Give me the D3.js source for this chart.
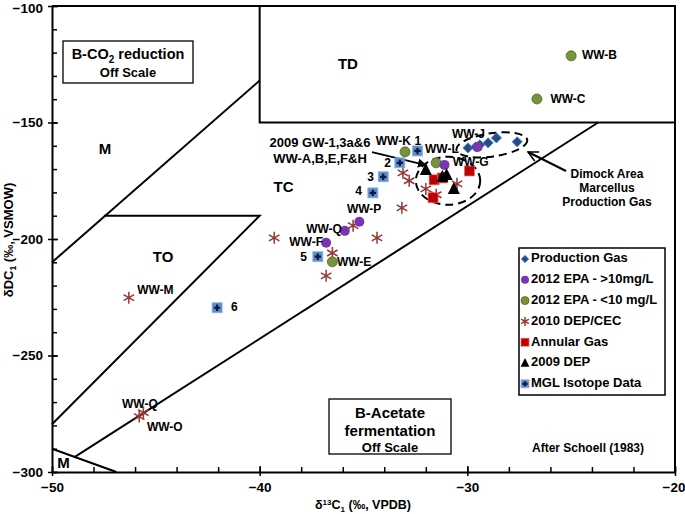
<!DOCTYPE html>
<html><head><meta charset="utf-8">
<script src="https://cdn.jsdelivr.net/npm/d3@7"></script>
<style>
body{margin:0;background:#fff;}
svg text{font-family:"Liberation Sans",Arial,sans-serif;font-weight:bold;fill:#000;}
</style></head><body>
<svg id="chart" width="685" height="514"></svg>
<script>
// ---------- DATA ----------
const xTicks = [-50, -40, -30, -20];
const yTicks = [-300, -250, -200, -150, -100];
const xMinor = d3.range(-50, -19.9, 2);
const yMinor = d3.range(-300, -99.9, 10);

// Series
const prodX = [-29.97, -29.6, -29.4, -29.0, -28.6, -27.6];
const prodY = [-160.9, -160.5, -159.6, -158.7, -156.6, -158.3];

const epaHiX = [-29.5, -31.1, -35.2, -35.9, -36.8];
const epaHiY = [-160.5, -168.2, -192.6, -196.5, -201.6];

const epaLoX = [-25.0, -26.65, -33.0, -31.5, -36.5];
const epaLoY = [-121.4, -139.9, -162.6, -167.3, -209.8];

const dep2010X = [-46.3, -45.6, -45.8, -39.3, -35.5, -36.5, -36.8, -34.35, -33.1, -32.8, -32.0, -31.5, -30.5, -33.15];
const dep2010Y = [-225.2, -274.5, -276.2, -199.5, -194.3, -206.0, -215.8, -199.5, -171.6, -175.0, -178.5, -181.0, -176.3, -186.6];

const annularX = [-29.9, -31.6, -31.2, -31.65];
const annularY = [-170.8, -174.6, -173.8, -182.3];

const dep2009X = [-32.0, -31.2, -31.0, -30.65];
const dep2009Y = [-170.3, -173.3, -172.5, -178.5];

const mglX = [-32.4, -33.25, -34.05, -34.55, -37.2, -42.05];
const mglY = [-162.2, -167.3, -173.3, -180.2, -207.6, -229.5];

const legendLabels = ["Production Gas", "2012 EPA - >10mg/L", "2012 EPA - <10 mg/L", "2010 DEP/CEC", "Annular Gas", "2009 DEP", "MGL Isotope Data"];

// Schoell (1983) genetic field boundaries (data coords)
const boundaryA = [[-50, -210], [-40, -132]];
const boundaryTD = [[-40, -100], [-40, -150], [-20, -150]];
const boundaryTO = [[-47.5, -190], [-40, -190], [-50, -279.5]];
const boundaryC = [[-48.9, -293.5], [-23.7, -150]];
const boundaryD = [[-50, -290], [-46.9, -300]];

// Point labels [text, x, y, anchor]
const pointLabels = [
  ["WW-B", -24.48, -121.4, "start"],
  ["WW-C", -26.0, -140.3, "start"],
  ["WW-J", -30.74, -155.3, "start"],
  ["WW-K", -32.72, -158.3, "end"],
  ["1", -32.55, -158.3, "start"],
  ["WW-L", -32.04, -161.7, "start"],
  ["WW-G", -30.7, -167.3, "start"],
  ["2", -33.68, -167.8, "end"],
  ["3", -34.5, -173.8, "end"],
  ["4", -35.07, -179.8, "end"],
  ["5", -37.72, -208.1, "end"],
  ["6", -41.38, -229.5, "start"],
  ["WW-P", -35.8, -187.5, "start"],
  ["WW-Q", -36.04, -196.1, "end"],
  ["WW-F", -36.95, -201.6, "end"],
  ["WW-E", -36.28, -210.2, "start"],
  ["WW-M", -45.9, -222.2, "start"],
  ["WW-Q", -46.63, -271.1, "start"],
  ["WW-O", -45.43, -281.0, "start"]
];
// Region labels [text, x, y]
const regionLabels = [
  ["TD", -35.75, -125.3],
  ["TC", -38.85, -178.0],
  ["TO", -44.65, -208.1],
  ["M", -47.45, -161.7],
  ["M", -49.45, -296.4]
];

// ---------- CHART ----------
const svg = d3.select("#chart");
const L = 52, R = 675, T = 6, B = 472;
const x = d3.scaleLinear().domain([-50, -20]).range([L, R]);
const y = d3.scaleLinear().domain([-300, -100]).range([B, T]);
const line = d3.line().x(d => x(d[0])).y(d => y(d[1]));

// frame (top & right)
svg.append("path").attr("d", `M${L},${T}H${R}V${B}`).attr("fill", "none").attr("stroke", "#000").attr("stroke-width", 2);

// boundaries
[boundaryA, boundaryTD, boundaryTO, boundaryC, boundaryD].forEach(b => {
  svg.append("path").attr("d", line(b)).attr("fill", "none").attr("stroke", "#000").attr("stroke-width", 2);
});

// region labels
svg.selectAll(".reg").data(regionLabels).enter().append("text")
  .attr("x", d => x(d[1])).attr("y", d => y(d[2])).attr("text-anchor", "middle")
  .attr("dominant-baseline", "middle").style("font-size", "15px").text(d => d[0]);

// B-CO2 box
svg.append("rect").attr("x", 63).attr("y", 41).attr("width", 130).attr("height", 42)
  .attr("fill", "#fff").attr("stroke", "#000").attr("stroke-width", 1.3);
const t1 = svg.append("text").attr("x", 128).attr("y", 59).attr("text-anchor", "middle").style("font-size", "14.5px");
t1.append("tspan").text("B-CO");
t1.append("tspan").attr("dy", 4).style("font-size", "10px").text("2");
t1.append("tspan").attr("dy", -4).text(" reduction");
svg.append("text").attr("x", 128).attr("y", 77).attr("text-anchor", "middle").style("font-size", "13px").text("Off Scale");

// B-Acetate box
svg.append("rect").attr("x", 329).attr("y", 399).attr("width", 122).attr("height", 55)
  .attr("fill", "#fff").attr("stroke", "#000").attr("stroke-width", 1.3);
svg.append("text").attr("x", 390).attr("y", 418).attr("text-anchor", "middle").style("font-size", "15px").text("B-Acetate");
svg.append("text").attr("x", 390).attr("y", 436).attr("text-anchor", "middle").style("font-size", "15px").text("fermentation");
svg.append("text").attr("x", 390).attr("y", 452).attr("text-anchor", "middle").style("font-size", "13px").text("Off Scale");

svg.append("text").attr("x", 588).attr("y", 452).attr("text-anchor", "middle").style("font-size", "12px").text("After Schoell (1983)");

// dashed ellipses
function ell(cx, cy, rxd, ryd, rot) {
  const px = x(cx), py = y(cy);
  svg.append("ellipse").attr("cx", px).attr("cy", py)
    .attr("rx", x(cx + rxd) - px).attr("ry", py - y(cy + ryd))
    .attr("transform", `rotate(${rot},${px},${py})`)
    .attr("fill", "none").attr("stroke", "#000").attr("stroke-width", 2).attr("stroke-dasharray", "8,5");
}
ell(-28.82, -159.6, 1.72, 5.0, -8);
ell(-30.93, -175.0, 1.55, 10.3, 0);

// arrows
const defs = svg.append("defs");
defs.append("marker").attr("id", "ahf").attr("viewBox", "0 0 10 10").attr("refX", 9).attr("refY", 5)
  .attr("markerWidth", 5).attr("markerHeight", 5).attr("orient", "auto")
  .append("path").attr("d", "M0,0L10,5L0,10z").attr("fill", "#000");
defs.append("marker").attr("id", "aho").attr("viewBox", "0 0 12 12").attr("refX", 11).attr("refY", 6)
  .attr("markerWidth", 6).attr("markerHeight", 6).attr("orient", "auto").attr("markerUnits", "strokeWidth")
  .append("path").attr("d", "M1,1L11,6L1,11").attr("fill", "none").attr("stroke", "#000").attr("stroke-width", 1.5);
svg.append("line").attr("x1", 372).attr("y1", 152).attr("x2", 426).attr("y2", 165)
  .attr("stroke", "#000").attr("stroke-width", 1.8).attr("marker-end", "url(#ahf)");
svg.append("line").attr("x1", 566).attr("y1", 171).attr("x2", 528).attr("y2", 152)
  .attr("stroke", "#000").attr("stroke-width", 2).attr("marker-end", "url(#aho)");

svg.append("text").attr("x", 320).attr("y", 147).attr("text-anchor", "middle").style("font-size", "13px").text("2009 GW-1,3a&6");
svg.append("text").attr("x", 320).attr("y", 163).attr("text-anchor", "middle").style("font-size", "13px").text("WW-A,B,E,F&H");
["Dimock Area", "Marcellus", "Production Gas"].forEach((s, i) => {
  svg.append("text").attr("x", 607).attr("y", 178 + i * 14).attr("text-anchor", "middle").style("font-size", "12px").text(s);
});

// ---------- MARKERS ----------
const colors = {
  prod: "#1f4e8c", prodS: "#5b82b8",
  hi: "#7a35b0", lo: "#77933c", loS: "#4f6228",
  dep10: "#953735", ann: "#c00000", annS: "#e07070",
  dep09: "#000", mgl: "#5b8fcc", mglS: "#8fb3de", plus: "#0a1a40"
};
function drawMarker(g, type, px, py, s) {
  if (type === 0) {
    g.append("path").attr("d", d3.symbol(d3.symbolDiamond2, s * s * 0.55)()).attr("transform", `translate(${px},${py})`)
      .attr("fill", colors.prod).attr("stroke", colors.prodS).attr("stroke-width", 0.8);
  } else if (type === 1) {
    g.append("circle").attr("cx", px).attr("cy", py).attr("r", s / 2).attr("fill", colors.hi);
  } else if (type === 2) {
    g.append("circle").attr("cx", px).attr("cy", py).attr("r", s / 2).attr("fill", colors.lo).attr("stroke", colors.loS).attr("stroke-width", 0.8);
  } else if (type === 3) {
    const r = s / 2;
    const a = r * 0.87;
    g.append("path").attr("d", `M${px},${py - r}V${py + r}M${px - a},${py - r / 2}L${px + a},${py + r / 2}M${px - a},${py + r / 2}L${px + a},${py - r / 2}`)
      .attr("stroke", colors.dep10).attr("stroke-width", 1.5).attr("fill", "none");
  } else if (type === 4) {
    g.append("rect").attr("x", px - s / 2).attr("y", py - s / 2).attr("width", s).attr("height", s)
      .attr("fill", colors.ann).attr("stroke", colors.annS).attr("stroke-width", 0.7);
  } else if (type === 5) {
    const h = s * 1.05;
    g.append("path").attr("d", `M${px},${py - h * 0.6}L${px + s * 0.55},${py + h * 0.45}L${px - s * 0.55},${py + h * 0.45}Z`).attr("fill", colors.dep09);
  } else if (type === 6) {
    g.append("rect").attr("x", px - s / 2).attr("y", py - s / 2).attr("width", s).attr("height", s)
      .attr("fill", colors.mgl).attr("stroke", colors.mglS).attr("stroke-width", 0.8);
    const p = s * 0.32;
    g.append("path").attr("d", `M${px - p},${py}H${px + p}M${px},${py - p}V${py + p}`)
      .attr("stroke", colors.plus).attr("stroke-width", 2.2);
  }
}
const series = [
  [dep2010X, dep2010Y, 3, 12],
  [prodX, prodY, 0, 11],
  [annularX, annularY, 4, 10],
  [epaLoX, epaLoY, 2, 10],
  [epaHiX, epaHiY, 1, 10],
  [dep2009X, dep2009Y, 5, 11],
  [mglX, mglY, 6, 10]
];
const gm = svg.append("g");
series.forEach(([xs, ys, t, s]) => {
  xs.forEach((v, i) => drawMarker(gm, t, x(v), y(ys[i]), s));
});

// point labels
svg.selectAll(".pl").data(pointLabels).enter().append("text")
  .attr("x", d => x(d[1])).attr("y", d => y(d[2])).attr("text-anchor", d => d[3])
  .attr("dominant-baseline", "middle").style("font-size", "12px").text(d => d[0]);

// ---------- LEGEND ----------
const lg = svg.append("g");
lg.append("rect").attr("x", 519).attr("y", 248).attr("width", 146).attr("height", 147)
  .attr("fill", "#fff").attr("stroke", "#000").attr("stroke-width", 1.5);
const legendTypes = [0, 1, 2, 3, 4, 5, 6];
legendTypes.forEach((t, i) => {
  const cy = 259 + i * 20.8;
  drawMarker(lg, t, 525, cy, t === 3 ? 9 : 8);
  lg.append("text").attr("x", 531).attr("y", cy).attr("dominant-baseline", "middle").style("font-size", "13px").text(legendLabels[i]);
});

// ---------- AXES ----------
const gx = svg.append("g").attr("transform", `translate(0,${B})`);
gx.call(d3.axisBottom(x).tickValues(xMinor).tickSizeInner(-5).tickSizeOuter(0).tickFormat(""));
gx.call(g => g.select(".domain").remove());
const gx2 = svg.append("g").attr("transform", `translate(0,${B})`);
gx2.call(d3.axisBottom(x).tickValues(xTicks).tickSizeInner(4).tickSizeOuter(0).tickPadding(6).tickFormat(d3.format("d")));
gx2.selectAll(".tick line").attr("y1", -6);
gx2.selectAll("text").style("font-size", "13.5px").attr("font-family", null);

const gy = svg.append("g").attr("transform", `translate(${L},0)`);
gy.call(d3.axisLeft(y).tickValues(yMinor).tickSizeInner(-5).tickSizeOuter(0).tickFormat(""));
gy.call(g => g.select(".domain").remove());
const gy2 = svg.append("g").attr("transform", `translate(${L},0)`);
gy2.call(d3.axisLeft(y).tickValues(yTicks).tickSizeInner(4).tickSizeOuter(0).tickPadding(5).tickFormat(d3.format("d")));
gy2.selectAll(".tick line").attr("x1", 6);
gy2.selectAll("text").style("font-size", "13.5px").attr("font-family", null);
gy2.selectAll(".tick").filter(d => d === -100).select("text").attr("dy", "0.45em");

svg.selectAll(".domain").attr("stroke-width", 2);
svg.selectAll(".tick line").attr("stroke-width", 1.5);
gx2.selectAll("text").attr("dy", "0.71em");
gx2.selectAll(".tick").filter(d => d === -20).select("text").attr("text-anchor", "end").attr("x", 10);

// axis titles
const xt = svg.append("text").attr("x", 363).attr("y", 509).attr("text-anchor", "middle").style("font-size", "12.5px");
xt.append("tspan").text("δ");
xt.append("tspan").attr("dy", -4).style("font-size", "8px").text("13");
xt.append("tspan").attr("dy", 4).text("C");
xt.append("tspan").attr("dy", 3).style("font-size", "8px").text("1");
xt.append("tspan").attr("dy", -3).text(" (‰, VPDB)");

const yt = svg.append("text").attr("transform", "translate(13,240) rotate(-90)").attr("text-anchor", "middle").style("font-size", "13px");
yt.append("tspan").text("δDC");
yt.append("tspan").attr("dy", 3).style("font-size", "8.5px").text("1");
yt.append("tspan").attr("dy", -3).text(" (‰, VSMOW)");
</script>
</body></html>
